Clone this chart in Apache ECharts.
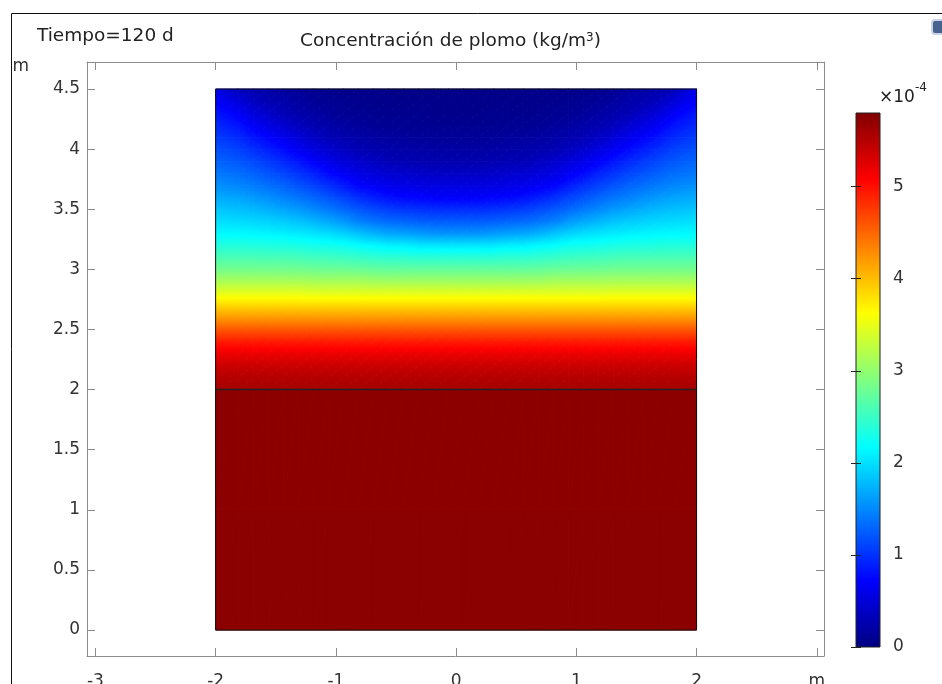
<!DOCTYPE html>
<html>

<head>
  <meta charset="utf-8">
  <title>Concentración de plomo</title>
  <script src="https://cdn.jsdelivr.net/npm/echarts@6/dist/echarts.min.js"></script>
</head>

<body style="margin:0;background:#fff">
  <div id="main" style="width:942px;height:684px;"></div>
  <script type="text/javascript">
    // posiciones x de los nodos leidos (m), de x=-2 a x=2
    var xNodes = [-2, -1.8125, -1.6875, -1.5625, -1.4375, -1.3125, -1.1875, -1.0625, -0.9375, -0.8125, -0.6875,
      -0.5625, -0.4375, -0.3125, -0.1875, -0.0625, 0.0625, 0.1875, 0.3125, 0.4375, 0.5625, 0.6875, 0.8125,
      0.9375, 1.0625, 1.1875, 1.3125, 1.4375, 1.5625, 1.6875, 1.8125, 2];
    // alturas de los nodos (m); y=2 aparece dos veces: interfaz entre las dos capas
    var yNodes = [0, 1, 2, 2, 2.1, 2.2, 2.3, 2.4, 2.5, 2.6, 2.7, 2.8, 2.9, 3, 3.1, 3.2, 3.3, 3.4, 3.5, 3.6, 3.7,
      3.8, 3.9, 4, 4.1, 4.2, 4.3, 4.4, 4.5];

    // concentracion (x1e-4 kg/m3) en cada nodo, filas de abajo hacia arriba
    var conc = [
      [5.74, 5.74, 5.74, 5.74, 5.74, 5.74, 5.74, 5.74, 5.74, 5.74, 5.74, 5.74, 5.74, 5.74, 5.74, 5.74, 5.74, 5.74, 5.74, 5.74, 5.74, 5.74, 5.74, 5.74, 5.74, 5.74, 5.74, 5.74, 5.74, 5.74, 5.74, 5.74],
      [5.73, 5.73, 5.73, 5.73, 5.73, 5.73, 5.73, 5.73, 5.73, 5.73, 5.73, 5.73, 5.73, 5.73, 5.73, 5.73, 5.73, 5.73, 5.73, 5.73, 5.73, 5.73, 5.73, 5.73, 5.73, 5.73, 5.73, 5.73, 5.73, 5.73, 5.73, 5.73],
      [5.72, 5.72, 5.72, 5.72, 5.72, 5.72, 5.72, 5.72, 5.72, 5.72, 5.72, 5.72, 5.72, 5.72, 5.72, 5.72, 5.72, 5.72, 5.72, 5.72, 5.72, 5.72, 5.72, 5.72, 5.72, 5.72, 5.72, 5.72, 5.72, 5.72, 5.72, 5.72],
      [5.60, 5.60, 5.60, 5.60, 5.60, 5.60, 5.60, 5.60, 5.60, 5.60, 5.60, 5.60, 5.60, 5.60, 5.60, 5.60, 5.60, 5.60, 5.60, 5.60, 5.60, 5.60, 5.60, 5.60, 5.60, 5.60, 5.60, 5.60, 5.60, 5.60, 5.60, 5.60],
      [5.50, 5.50, 5.50, 5.50, 5.50, 5.50, 5.50, 5.50, 5.50, 5.50, 5.50, 5.50, 5.50, 5.50, 5.50, 5.50, 5.50, 5.50, 5.50, 5.50, 5.50, 5.50, 5.50, 5.50, 5.50, 5.50, 5.50, 5.50, 5.50, 5.50, 5.50, 5.50],
      [5.37, 5.37, 5.37, 5.37, 5.37, 5.37, 5.37, 5.37, 5.37, 5.37, 5.37, 5.37, 5.37, 5.37, 5.37, 5.37, 5.37, 5.37, 5.37, 5.37, 5.37, 5.37, 5.37, 5.37, 5.37, 5.37, 5.37, 5.37, 5.37, 5.37, 5.37, 5.37],
      [5.18, 5.18, 5.18, 5.18, 5.18, 5.18, 5.18, 5.18, 5.18, 5.18, 5.18, 5.18, 5.18, 5.18, 5.18, 5.18, 5.18, 5.18, 5.18, 5.18, 5.18, 5.18, 5.18, 5.18, 5.18, 5.18, 5.18, 5.18, 5.18, 5.18, 5.18, 5.18],
      [4.92, 4.92, 4.92, 4.92, 4.92, 4.92, 4.92, 4.92, 4.92, 4.92, 4.92, 4.92, 4.92, 4.92, 4.92, 4.92, 4.92, 4.92, 4.92, 4.92, 4.92, 4.92, 4.92, 4.92, 4.92, 4.92, 4.92, 4.92, 4.92, 4.92, 4.92, 4.92],
      [4.58, 4.58, 4.58, 4.58, 4.58, 4.58, 4.58, 4.58, 4.58, 4.58, 4.58, 4.58, 4.58, 4.58, 4.58, 4.58, 4.58, 4.58, 4.58, 4.58, 4.58, 4.58, 4.58, 4.58, 4.58, 4.58, 4.58, 4.58, 4.58, 4.58, 4.58, 4.58],
      [4.20, 4.20, 4.20, 4.20, 4.20, 4.20, 4.20, 4.20, 4.20, 4.20, 4.20, 4.20, 4.20, 4.20, 4.20, 4.20, 4.20, 4.20, 4.20, 4.20, 4.20, 4.20, 4.20, 4.20, 4.20, 4.20, 4.20, 4.20, 4.20, 4.20, 4.20, 4.20],
      [3.85, 3.85, 3.85, 3.85, 3.85, 3.85, 3.85, 3.85, 3.85, 3.85, 3.85, 3.85, 3.85, 3.85, 3.85, 3.85, 3.85, 3.85, 3.85, 3.85, 3.85, 3.85, 3.85, 3.85, 3.85, 3.85, 3.85, 3.85, 3.85, 3.85, 3.85, 3.85],
      [3.49, 3.49, 3.49, 3.49, 3.49, 3.49, 3.47, 3.47, 3.47, 3.47, 3.47, 3.47, 3.47, 3.47, 3.47, 3.47, 3.47, 3.47, 3.47, 3.47, 3.47, 3.47, 3.47, 3.47, 3.47, 3.47, 3.49, 3.49, 3.49, 3.49, 3.49, 3.49],
      [3.14, 3.14, 3.14, 3.14, 3.14, 3.14, 3.12, 3.12, 3.12, 3.12, 3.09, 3.09, 3.09, 3.09, 3.09, 3.09, 3.09, 3.09, 3.09, 3.09, 3.09, 3.09, 3.12, 3.12, 3.12, 3.12, 3.14, 3.14, 3.14, 3.14, 3.14, 3.14],
      [2.83, 2.83, 2.83, 2.83, 2.82, 2.82, 2.80, 2.79, 2.79, 2.78, 2.75, 2.74, 2.74, 2.74, 2.74, 2.74, 2.74, 2.74, 2.74, 2.74, 2.74, 2.75, 2.78, 2.79, 2.79, 2.80, 2.82, 2.82, 2.83, 2.83, 2.83, 2.83],
      [2.59, 2.59, 2.59, 2.58, 2.58, 2.57, 2.54, 2.53, 2.51, 2.48, 2.45, 2.43, 2.43, 2.41, 2.41, 2.41, 2.41, 2.41, 2.41, 2.43, 2.43, 2.45, 2.48, 2.51, 2.53, 2.54, 2.57, 2.58, 2.58, 2.59, 2.59, 2.59],
      [2.37, 2.36, 2.35, 2.34, 2.33, 2.31, 2.28, 2.26, 2.24, 2.18, 2.14, 2.09, 2.09, 2.04, 2.03, 2.03, 2.03, 2.03, 2.04, 2.09, 2.09, 2.14, 2.18, 2.24, 2.26, 2.28, 2.31, 2.33, 2.34, 2.35, 2.36, 2.37],
      [2.15, 2.14, 2.13, 2.11, 2.09, 2.06, 2.02, 1.98, 1.91, 1.82, 1.73, 1.66, 1.63, 1.59, 1.55, 1.55, 1.55, 1.55, 1.59, 1.63, 1.66, 1.73, 1.82, 1.91, 1.98, 2.02, 2.06, 2.09, 2.11, 2.13, 2.14, 2.15],
      [2.00, 1.97, 1.95, 1.92, 1.88, 1.83, 1.76, 1.68, 1.58, 1.45, 1.38, 1.32, 1.29, 1.26, 1.24, 1.24, 1.24, 1.24, 1.26, 1.29, 1.32, 1.38, 1.45, 1.58, 1.68, 1.76, 1.83, 1.88, 1.92, 1.95, 1.97, 2.00],
      [1.85, 1.81, 1.77, 1.72, 1.66, 1.59, 1.50, 1.41, 1.31, 1.21, 1.13, 1.06, 1.02, 0.99, 0.97, 0.97, 0.97, 0.97, 0.99, 1.02, 1.06, 1.13, 1.21, 1.31, 1.41, 1.50, 1.59, 1.66, 1.72, 1.77, 1.81, 1.85],
      [1.69, 1.65, 1.59, 1.53, 1.45, 1.38, 1.29, 1.19, 1.09, 0.97, 0.88, 0.80, 0.75, 0.73, 0.70, 0.70, 0.70, 0.70, 0.73, 0.75, 0.80, 0.88, 0.97, 1.09, 1.19, 1.29, 1.38, 1.45, 1.53, 1.59, 1.65, 1.69],
      [1.54, 1.48, 1.42, 1.35, 1.28, 1.19, 1.09, 0.98, 0.86, 0.72, 0.66, 0.61, 0.58, 0.56, 0.54, 0.54, 0.54, 0.54, 0.56, 0.58, 0.61, 0.66, 0.72, 0.86, 0.98, 1.09, 1.19, 1.28, 1.35, 1.42, 1.48, 1.54],
      [1.40, 1.34, 1.27, 1.19, 1.11, 1.01, 0.90, 0.76, 0.66, 0.57, 0.51, 0.46, 0.43, 0.41, 0.38, 0.38, 0.38, 0.38, 0.41, 0.43, 0.46, 0.51, 0.57, 0.66, 0.76, 0.90, 1.01, 1.11, 1.19, 1.27, 1.34, 1.40],
      [1.29, 1.21, 1.13, 1.04, 0.94, 0.83, 0.70, 0.60, 0.51, 0.43, 0.37, 0.31, 0.29, 0.28, 0.27, 0.27, 0.27, 0.27, 0.28, 0.29, 0.31, 0.37, 0.43, 0.51, 0.60, 0.70, 0.83, 0.94, 1.04, 1.13, 1.21, 1.29],
      [1.18, 1.08, 0.98, 0.88, 0.77, 0.65, 0.55, 0.45, 0.36, 0.29, 0.26, 0.24, 0.22, 0.21, 0.20, 0.20, 0.20, 0.20, 0.21, 0.22, 0.24, 0.26, 0.29, 0.36, 0.45, 0.55, 0.65, 0.77, 0.88, 0.98, 1.08, 1.18],
      [1.06, 0.95, 0.83, 0.72, 0.61, 0.50, 0.39, 0.30, 0.26, 0.22, 0.19, 0.17, 0.16, 0.14, 0.13, 0.13, 0.13, 0.13, 0.14, 0.16, 0.17, 0.19, 0.22, 0.26, 0.30, 0.39, 0.50, 0.61, 0.72, 0.83, 0.95, 1.06],
      [0.95, 0.82, 0.68, 0.56, 0.45, 0.35, 0.27, 0.23, 0.19, 0.15, 0.12, 0.10, 0.10, 0.09, 0.09, 0.09, 0.09, 0.09, 0.09, 0.10, 0.10, 0.12, 0.15, 0.19, 0.23, 0.27, 0.35, 0.45, 0.56, 0.68, 0.82, 0.95],
      [0.84, 0.68, 0.52, 0.41, 0.30, 0.25, 0.20, 0.16, 0.11, 0.10, 0.09, 0.08, 0.08, 0.08, 0.07, 0.07, 0.07, 0.07, 0.08, 0.08, 0.08, 0.09, 0.10, 0.11, 0.16, 0.20, 0.25, 0.30, 0.41, 0.52, 0.68, 0.84],
      [0.72, 0.51, 0.36, 0.28, 0.24, 0.18, 0.13, 0.10, 0.09, 0.08, 0.07, 0.07, 0.06, 0.06, 0.06, 0.06, 0.06, 0.06, 0.06, 0.06, 0.07, 0.07, 0.08, 0.09, 0.10, 0.13, 0.18, 0.24, 0.28, 0.36, 0.51, 0.72],
      [0.60, 0.33, 0.27, 0.22, 0.17, 0.12, 0.09, 0.08, 0.07, 0.06, 0.05, 0.05, 0.04, 0.04, 0.04, 0.04, 0.04, 0.04, 0.04, 0.04, 0.05, 0.05, 0.06, 0.07, 0.08, 0.09, 0.12, 0.17, 0.22, 0.27, 0.33, 0.60]
    ];

    // contorno del dominio y linea de la interfaz
    var domainX = [-2, 2];
    var domainY = [0, 2, 4.5];

    var xTicks = [-3, -2, -1, 0, 1, 2, 3];
    var yTicks = [0, 0.5, 1, 1.5, 2, 2.5, 3, 3.5, 4, 4.5];
    var barTicks = [0, 1, 2, 3, 4, 5];
    var barRange = [0, 5.8];

    var jet = ['#000080', '#0000ff', '#0080ff', '#00ffff', '#80ff80', '#ffff00', '#ff8000', '#ff0000', '#800000'];

    function jetColor(v) {
      var t = (v - barRange[0]) / (barRange[1] - barRange[0]);
      return echarts.color.lerp(Math.max(0, Math.min(1, t)), jet);
    }

    // triangulo sombreado: el valor varia linealmente entre sus tres vertices
    function shadedTriangle(p, v) {
      var dx1 = p[1][0] - p[0][0], dy1 = p[1][1] - p[0][1];
      var dx2 = p[2][0] - p[0][0], dy2 = p[2][1] - p[0][1];
      var dv1 = v[1] - v[0], dv2 = v[2] - v[0];
      var det = dx1 * dy2 - dx2 * dy1;
      var vmin = Math.min(v[0], v[1], v[2]), vmax = Math.max(v[0], v[1], v[2]);
      var fill;
      if (vmax - vmin < 0.015 || Math.abs(det) < 1e-9) {
        fill = jetColor((vmin + vmax) / 2);
      } else {
        var a = (dv1 * dy2 - dv2 * dy1) / det;
        var b = (dx1 * dv2 - dx2 * dv1) / det;
        var g2 = a * a + b * b;
        var k = v.indexOf(vmin);
        var d = vmax - vmin;
        var sx = p[k][0], sy = p[k][1];
        var ex = sx + a * d / g2, ey = sy + b * d / g2;
        var stops = [{ offset: 0, color: jetColor(vmin) }];
        for (var m = 1; m < jet.length - 1; m++) {
          var lv = barRange[0] + m / (jet.length - 1) * (barRange[1] - barRange[0]);
          if (lv > vmin && lv < vmax) stops.push({ offset: (lv - vmin) / d, color: jetColor(lv) });
        }
        stops.push({ offset: 1, color: jetColor(vmax) });
        fill = new echarts.graphic.LinearGradient(sx, sy, ex, ey, stops, true);
      }
      return {
        type: 'polygon',
        shape: { points: p },
        style: { fill: fill, stroke: fill, lineWidth: 1 }
      };
    }

    var cells = [];
    for (var i = 0; i < yNodes.length - 1; i++) {
      if (yNodes[i + 1] <= yNodes[i]) continue;
      for (var j = 0; j < xNodes.length - 1; j++) {
        cells.push([xNodes[j], xNodes[j + 1], yNodes[i], yNodes[i + 1],
          conc[i][j], conc[i][j + 1], conc[i + 1][j], conc[i + 1][j + 1]]);
      }
    }

    var outline = [
      [domainX[0], domainY[0]], [domainX[1], domainY[0]], [domainX[1], domainY[2]],
      [domainX[0], domainY[2]], [domainX[0], domainY[0]]
    ];
    var interfaceLine = [[domainX[0], domainY[1]], [domainX[1], domainY[1]]];

    var barStops = jet.map(function (c, k) {
      return { offset: 1 - k / (jet.length - 1), color: c };
    }).reverse();

    var labelFont = { fontFamily: 'DejaVu Sans', fontSize: 17, color: '#333' };
    var frame = { onZero: false, lineStyle: { color: '#8c8c8c', width: 1 } };
    var tickIn = { inside: true, length: 8, lineStyle: { color: '#8c8c8c' } };

    var myChart = echarts.init(document.getElementById('main'));

    var option = {
      animation: false,
      backgroundColor: '#fff',
      title: [
        {
          text: 'Tiempo=120 d', left: 37, top: 27, padding: 0,
          textStyle: { fontFamily: 'DejaVu Sans', fontSize: 18.5, fontWeight: 'normal', color: '#222' }
        },
        {
          text: 'Concentración de plomo (kg/m{s|3})', left: 300, top: 32, padding: 0,
          textStyle: {
            fontFamily: 'DejaVu Sans', fontSize: 18.5, fontWeight: 'normal', color: '#222',
            rich: {
              s: { fontFamily: 'DejaVu Sans', fontSize: 12, fontWeight: 'normal', color: '#222', verticalAlign: 'top', lineHeight: 12 }
            }
          }
        },
        {
          text: '{a|×10}{b|-4}', left: 879, top: 82, padding: 0,
          textStyle: {
            fontWeight: 'normal',
            rich: {
              a: { fontFamily: 'DejaVu Sans', fontSize: 17, fontWeight: 'normal', color: '#222', lineHeight: 24, verticalAlign: 'bottom' },
              b: { fontFamily: 'DejaVu Sans', fontSize: 12, fontWeight: 'normal', color: '#222', lineHeight: 12, verticalAlign: 'top' }
            }
          }
        }
      ],
      graphic: [
        {
          type: 'rect', left: 9, top: 11, silent: true,
          shape: { width: 1000, height: 1000 },
          style: { fill: 'none', stroke: '#111', lineWidth: 1 }
        },
        {
          type: 'rect', left: 931, top: 19, silent: true,
          shape: { width: 14, height: 14, r: 3 },
          style: { fill: '#47628f', stroke: '#c9d3e3', lineWidth: 2 }
        }
      ],
      grid: [
        { left: 87, top: 62, width: 737, height: 594, outerBoundsMode: 'none', containLabel: false },
        { left: 856, top: 113, width: 24, height: 534, outerBoundsMode: 'none', containLabel: false }
      ],
      xAxis: [
        {
          type: 'value', gridIndex: 0, min: -3.07, max: 3.06, position: 'bottom',
          axisLine: frame, splitLine: { show: false },
          axisTick: Object.assign({ customValues: xTicks }, tickIn),
          axisLabel: Object.assign({
            customValues: xTicks, margin: 17,
            formatter: function (v) { return v === 3 ? 'm' : String(v); }
          }, labelFont)
        },
        {
          type: 'value', gridIndex: 0, min: -3.07, max: 3.06, position: 'top',
          axisLine: frame, splitLine: { show: false },
          axisTick: Object.assign({ customValues: xTicks }, tickIn),
          axisLabel: { show: false }
        },
        {
          type: 'value', gridIndex: 1, min: 0, max: 1, show: false
        }
      ],
      yAxis: [
        {
          type: 'value', gridIndex: 0, min: -0.216, max: 4.725, position: 'left',
          axisLine: frame, splitLine: { show: false },
          axisTick: Object.assign({ customValues: yTicks }, tickIn),
          axisLabel: Object.assign({ customValues: yTicks, margin: 7 }, labelFont),
          name: 'm', nameLocation: 'end', nameGap: -5,
          nameTextStyle: {
            fontFamily: 'DejaVu Sans', fontSize: 17, color: '#333',
            align: 'right', verticalAlign: 'middle', padding: [0, 58, 0, 0]
          }
        },
        {
          type: 'value', gridIndex: 0, min: -0.216, max: 4.725, position: 'right',
          axisLine: frame, splitLine: { show: false },
          axisTick: Object.assign({ customValues: yTicks }, tickIn),
          axisLabel: { show: false }
        },
        {
          type: 'value', gridIndex: 1, min: barRange[0], max: barRange[1], position: 'right', z: 5,
          axisLine: { show: false }, splitLine: { show: false },
          axisTick: { customValues: barTicks, inside: true, length: 5, lineStyle: { color: '#222' } },
          axisLabel: Object.assign({ customValues: barTicks, margin: 13 }, labelFont)
        },
        {
          type: 'value', gridIndex: 1, min: barRange[0], max: barRange[1], position: 'left', z: 5,
          axisLine: { show: false }, splitLine: { show: false },
          axisTick: { customValues: barTicks, inside: true, length: 5, lineStyle: { color: '#222' } },
          axisLabel: { show: false }
        }
      ],
      series: [
        {
          type: 'custom', xAxisIndex: 0, yAxisIndex: 0, silent: true,
          encode: { x: [0, 1], y: [2, 3] },
          data: cells,
          renderItem: function (params, api) {
            var p00 = api.coord([api.value(0), api.value(2)]);
            var p10 = api.coord([api.value(1), api.value(2)]);
            var p01 = api.coord([api.value(0), api.value(3)]);
            var p11 = api.coord([api.value(1), api.value(3)]);
            var v00 = api.value(4), v10 = api.value(5), v01 = api.value(6), v11 = api.value(7);
            return {
              type: 'group',
              children: [
                shadedTriangle([p00, p10, p11], [v00, v10, v11]),
                shadedTriangle([p00, p11, p01], [v00, v11, v01])
              ]
            };
          }
        },
        {
          type: 'line', xAxisIndex: 0, yAxisIndex: 0, silent: true, z: 5,
          data: outline, symbol: 'none',
          lineStyle: { color: '#111', width: 1 }
        },
        {
          type: 'line', xAxisIndex: 0, yAxisIndex: 0, silent: true, z: 5,
          data: interfaceLine, symbol: 'none',
          lineStyle: { color: '#222', width: 1.5 }
        },
        {
          type: 'custom', xAxisIndex: 2, yAxisIndex: 2, silent: true, z: 1,
          data: [[0, 1, barRange[0], barRange[1]]],
          renderItem: function (params, api) {
            var a = api.coord([api.value(0), api.value(3)]);
            var b = api.coord([api.value(1), api.value(2)]);
            return {
              type: 'rect',
              shape: { x: a[0], y: a[1], width: b[0] - a[0], height: b[1] - a[1] },
              style: {
                fill: new echarts.graphic.LinearGradient(0, 0, 0, 1, barStops),
                stroke: '#222', lineWidth: 1
              }
            };
          }
        }
      ]
    };

    myChart.setOption(option);
  </script>
</body>

</html>
